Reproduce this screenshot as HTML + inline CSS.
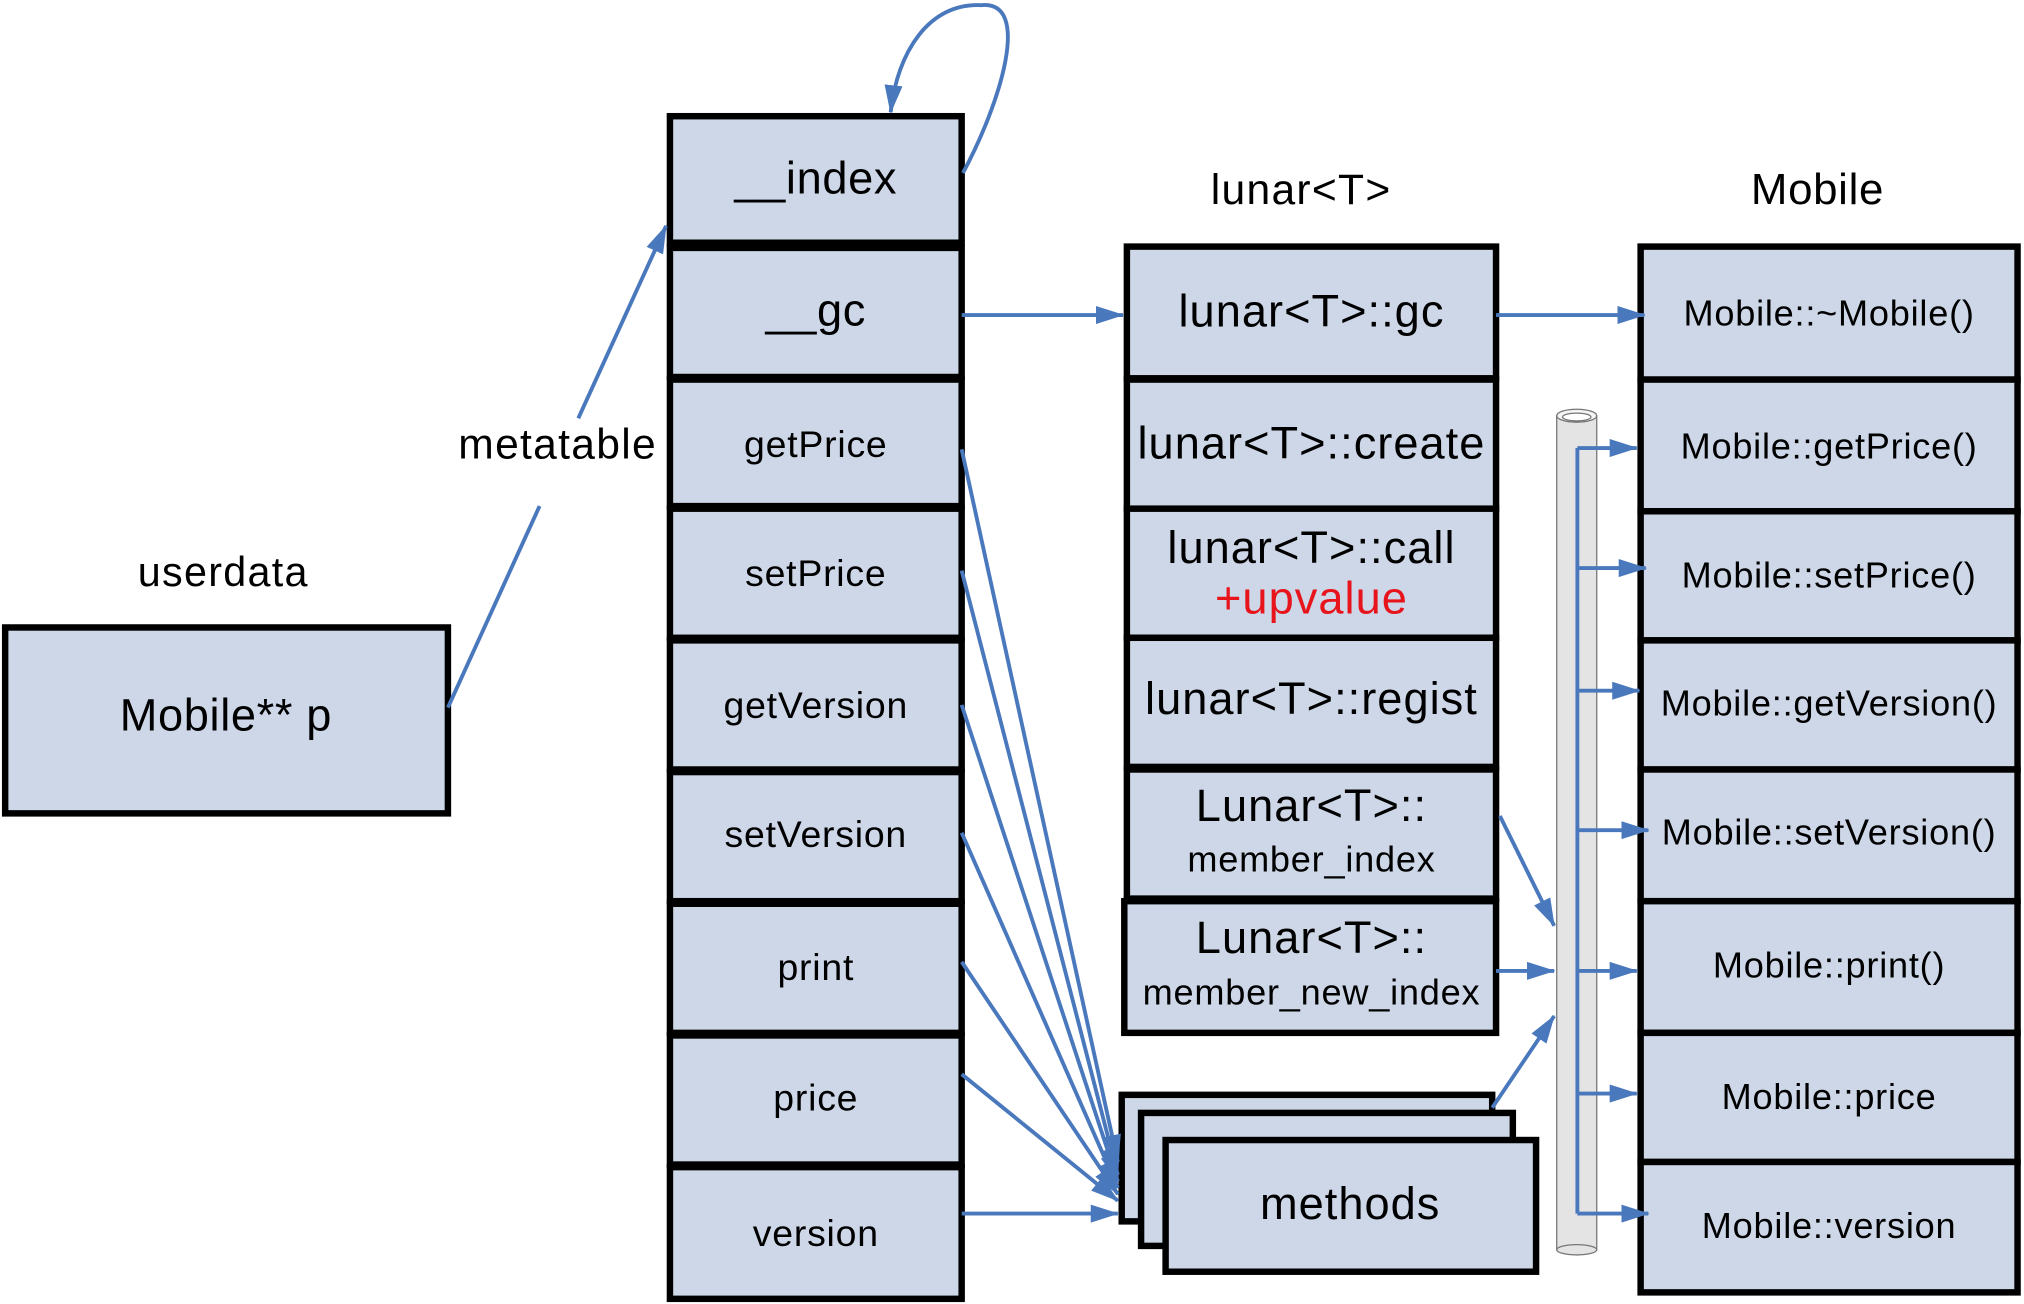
<!DOCTYPE html>
<html><head><meta charset="utf-8"><style>html,body{margin:0;padding:0;background:#fff}svg{display:block}</style></head>
<body>
<svg width="2024" height="1304" viewBox="0 0 1568 1010" preserveAspectRatio="none" xmlns="http://www.w3.org/2000/svg" font-family="'Liberation Sans', 'DejaVu Sans', sans-serif">
<defs>
<marker id="b" markerWidth="22" markerHeight="14" refX="21" refY="7" orient="auto" markerUnits="userSpaceOnUse" viewBox="0 0 22 14"><path d="M0,0 L22,7 L0,14 Z" fill="#4a78bd"/></marker>
</defs>
<rect width="1568" height="1010" fill="#fff"/>
<g fill="#cdd7e7" stroke="#000" stroke-width="5">
<rect x="4" y="486" width="343" height="144"/>
<rect x="519" y="90" width="226" height="98"/>
<rect x="519" y="192" width="226" height="100"/>
<rect x="519" y="294" width="226" height="98"/>
<rect x="519" y="394" width="226" height="100"/>
<rect x="519" y="496" width="226" height="100"/>
<rect x="519" y="598" width="226" height="100"/>
<rect x="519" y="700" width="226" height="100"/>
<rect x="519" y="802" width="226" height="100"/>
<rect x="519" y="904" width="226" height="102"/>
<rect x="873" y="191" width="286" height="102"/>
<rect x="873" y="294" width="286" height="100"/>
<rect x="873" y="394" width="286" height="100"/>
<rect x="873" y="494" width="286" height="100"/>
<rect x="873" y="596" width="286" height="100"/>
<rect x="871" y="698" width="288" height="102"/>
<rect x="1271" y="191" width="292" height="103"/>
<rect x="1271" y="294" width="292" height="102"/>
<rect x="1271" y="396" width="292" height="100"/>
<rect x="1271" y="496" width="292" height="100"/>
<rect x="1271" y="596" width="292" height="102"/>
<rect x="1271" y="698" width="292" height="102"/>
<rect x="1271" y="800" width="292" height="100"/>
<rect x="1271" y="900" width="292" height="101"/>
<rect x="869" y="848" width="287" height="98"/>
<rect x="884" y="862" width="288" height="103"/>
<rect x="903" y="883" width="287" height="102"/>
</g>
<rect x="1206" y="322" width="31" height="646" fill="#e4e4e4" stroke="#777" stroke-width="1"/>
<ellipse cx="1221.5" cy="968" rx="15.5" ry="4" fill="#e4e4e4" stroke="#777" stroke-width="1"/>
<ellipse cx="1221.5" cy="322" rx="15.5" ry="5" fill="#f4f4f4" stroke="#777" stroke-width="1"/>
<ellipse cx="1221.5" cy="323" rx="11" ry="3" fill="#fff" stroke="#777" stroke-width="1"/>
<g fill="none" stroke="#4a78bd" stroke-width="3">
<path d="M1222,347 V940"/>
<path d="M1222,347 H1268" marker-end="url(#b)"/>
<path d="M1222,440 H1275" marker-end="url(#b)"/>
<path d="M1222,535 H1270" marker-end="url(#b)"/>
<path d="M1222,643 H1277" marker-end="url(#b)"/>
<path d="M1222,752 H1268" marker-end="url(#b)"/>
<path d="M1222,847 H1268" marker-end="url(#b)"/>
<path d="M1222,940 H1277" marker-end="url(#b)"/>
<path d="M745,244 H870" marker-end="url(#b)"/>
<path d="M1159,244 H1274" marker-end="url(#b)"/>
<path d="M1162,632 L1204,717" marker-end="url(#b)"/>
<path d="M1159,752 H1204" marker-end="url(#b)"/>
<path d="M1156,858 L1204,787" marker-end="url(#b)"/>
<path d="M347,548 L418,392"/>
<path d="M448,324 L516,175" marker-end="url(#b)"/>
<path d="M746,134 C775,80 800,0 760,4 C720,2 695,40 690,87" marker-end="url(#b)"/>
<path d="M745,348 L866,900" marker-end="url(#b)"/>
<path d="M745,442 L866,910" marker-end="url(#b)"/>
<path d="M745,546 L866,915" marker-end="url(#b)"/>
<path d="M745,645 L866,920" marker-end="url(#b)"/>
<path d="M745,745 L866,925" marker-end="url(#b)"/>
<path d="M745,832 L866,930" marker-end="url(#b)"/>
<path d="M745,940 L866,940" marker-end="url(#b)"/>
</g>
<g fill="#000" text-anchor="middle">
<text x="173" y="454" font-size="32" letter-spacing="1">userdata</text>
<text x="175" y="566" font-size="35" letter-spacing="0.5">Mobile** p</text>
<text x="432" y="355" font-size="33" letter-spacing="1">metatable</text>
<text x="1008" y="158" font-size="33" letter-spacing="1">lunar&lt;T&gt;</text>
<text x="1408" y="158" font-size="34" letter-spacing="0.5">Mobile</text>
<text x="632" y="150" font-size="35" letter-spacing="0.5">__index</text>
<text x="632" y="252" font-size="35" letter-spacing="0.5">__gc</text>
<g font-size="29" letter-spacing="0.6">
<text x="632" y="354">getPrice</text>
<text x="632" y="454">setPrice</text>
<text x="632" y="556">getVersion</text>
<text x="632" y="656">setVersion</text>
<text x="632" y="759">print</text>
<text x="632" y="860">price</text>
<text x="632" y="965">version</text>
</g>
<g font-size="35" letter-spacing="0.8">
<text x="1016" y="253">lunar&lt;T&gt;::gc</text>
<text x="1016" y="355">lunar&lt;T&gt;::create</text>
<text x="1016" y="436">lunar&lt;T&gt;::call</text>
<text x="1016" y="475" fill="#e8141c">+upvalue</text>
<text x="1016" y="553">lunar&lt;T&gt;::regist</text>
<text x="1016" y="636">Lunar&lt;T&gt;::</text>
<text x="1016" y="738">Lunar&lt;T&gt;::</text>
<text x="1046" y="944">methods</text>
</g>
<g font-size="28" letter-spacing="0.6">
<text x="1016" y="675">member_index</text>
<text x="1016" y="778">member_new_index</text>
</g>
<g font-size="28" letter-spacing="0.6">
<text x="1417" y="252">Mobile::~Mobile()</text>
<text x="1417" y="355">Mobile::getPrice()</text>
<text x="1417" y="455">Mobile::setPrice()</text>
<text x="1417" y="554">Mobile::getVersion()</text>
<text x="1417" y="654">Mobile::setVersion()</text>
<text x="1417" y="757">Mobile::print()</text>
<text x="1417" y="859">Mobile::price</text>
<text x="1417" y="959">Mobile::version</text>
</g>
</g>
</svg>
</body></html>
